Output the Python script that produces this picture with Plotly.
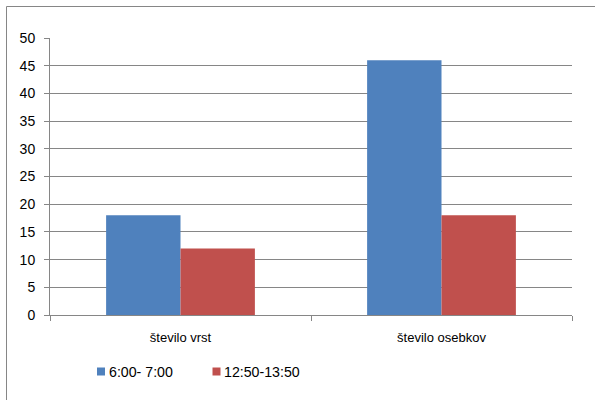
import plotly.graph_objects as go

categories = ["število vrst", "število osebkov"]
series_names = ["6:00- 7:00", "12:50-13:50"]
values_a = [18, 46]
values_b = [12, 18]
colors = ["#4F81BD", "#C0504D"]

fig = go.Figure()
for name, vals, col in zip(series_names, [values_a, values_b], colors):
    fig.add_trace(go.Bar(x=categories, y=vals, name=name, marker=dict(color=col, line=dict(width=0))))

L, R, T, B = 50, 23, 38, 85
pw = 595 - L - R
ph = 400 - T - B

def px_x(p):
    return (p - L) / pw

def px_y(p):
    return (400 - B - p) / ph

shapes = [dict(type="rect", xref="paper", yref="paper",
               x0=px_x(6.5), x1=px_x(610), y0=px_y(6.5), y1=px_y(420),
               line=dict(color="#868686", width=1), fillcolor="rgba(0,0,0,0)", layer="below")]
annotations = []
legend_x = [97, 212.5]
legend_y = 371.5
for name, col, lx in zip(series_names, colors, legend_x):
    shapes.append(dict(type="rect", xref="paper", yref="paper",
                       x0=px_x(lx), x1=px_x(lx + 8), y0=px_y(legend_y - 4), y1=px_y(legend_y + 4),
                       line=dict(width=0), fillcolor=col))
    annotations.append(dict(xref="paper", yref="paper", x=px_x(lx + 9.5), y=px_y(legend_y),
                            xanchor="left", yanchor="middle", text=name, showarrow=False,
                            font=dict(size=14.2, color="#000000")))

fig.update_layout(
    width=595, height=400,
    margin=dict(l=L, r=R, t=T, b=B),
    paper_bgcolor="white", plot_bgcolor="white",
    barmode="group", bargap=0.43, bargroupgap=0,
    font=dict(family="Liberation Sans", size=13, color="#000000"),
    showlegend=False,
    shapes=shapes,
    annotations=annotations,
)
fig.update_xaxes(showline=True, linecolor="#868686", linewidth=1, ticks="outside", ticklen=5,
                 tickcolor="#868686", tickson="boundaries", showgrid=False, ticklabelstandoff=10,
                 tickfont=dict(size=13))
fig.update_yaxes(range=[0, 50], dtick=5, showline=True, linecolor="#868686", linewidth=1,
                 ticks="outside", ticklen=5, tickcolor="#868686", showgrid=True,
                 gridcolor="#868686", gridwidth=1, zeroline=False, ticklabelstandoff=6,
                 tickfont=dict(size=14))

fig.write_html("out.html")
